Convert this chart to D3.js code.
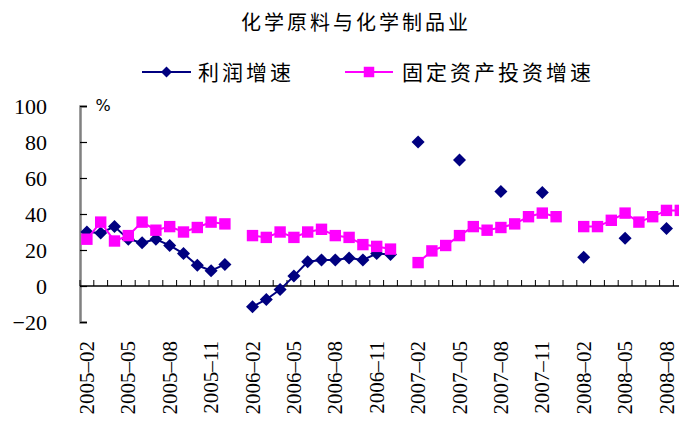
<!DOCTYPE html>
<html>
<head>
<meta charset="utf-8">
<script src="https://cdn.jsdelivr.net/npm/d3@7"></script>
<style>
  html, body { margin: 0; padding: 0; background: #fff; }
  svg { display: block; }
  .serif { font-family: "Times New Roman", "Liberation Serif", "DejaVu Serif", serif; }
</style>
</head>
<body>
<svg id="chart" width="679" height="421"></svg>
<script>
// Monthly categories (January left blank in the source statistics)
const months = [
  "2005-02","2005-03","2005-04","2005-05","2005-06","2005-07","2005-08","2005-09","2005-10","2005-11","2005-12",
  "2006-01","2006-02","2006-03","2006-04","2006-05","2006-06","2006-07","2006-08","2006-09","2006-10","2006-11","2006-12",
  "2007-01","2007-02","2007-03","2007-04","2007-05","2007-06","2007-07","2007-08","2007-09","2007-10","2007-11","2007-12",
  "2008-01","2008-02","2008-03","2008-04","2008-05","2008-06","2008-07","2008-08","2008-09"
];

// 利润增速 (%)
const profitGrowth = [
  30, 29.5, 33, 26, 24, 26, 22.5, 18, 11.5, 8.5, 12,
  null, -11.5, -7.5, -2, 5.5, 13.5, 14.5, 14.5, 15.5, 14.5, 18, 17.5,
  null, 80, null, null, 70, null, null, 52.5, null, null, 52, null,
  null, 16, null, null, 26.5, null, null, 32, null
];

// 固定资产投资增速 (%)
const investGrowth = [
  26, 35.5, 25, 28, 35.5, 31, 33, 30, 32.5, 35.5, 34.5,
  null, 28, 27, 30, 27, 30, 31.5, 28, 27, 23, 22, 20.5,
  null, 13, 19.5, 22.5, 28, 33, 31, 32.5, 34.5, 38.5, 40.5, 38.5,
  null, 33, 33, 36.5, 40.5, 35.5, 38.5, 42, 42
];

const yTicks = [-20, 0, 20, 40, 60, 80, 100];
const xTickLabels = months.filter((d, i) => i % 3 === 0);

const title = "化学原料与化学制品业";
const seriesNames = ["利润增速", "固定资产投资增速"];

const navy = "#000080";
const magenta = "#ff00ff";
const cjk = "'Noto Sans CJK SC', sans-serif";

const svg = d3.select("#chart");

const x = d3.scaleBand().domain(months).range([80, 80 + 13.8 * months.length]).padding(0);
const y = d3.scaleLinear().domain([-20, 100]).range([322, 106]);

// Title
svg.append("text")
  .attr("x", 356).attr("y", 30)
  .attr("text-anchor", "middle")
  .attr("font-family", cjk)
  .attr("font-size", 20)
  .attr("letter-spacing", 3)
  .attr("fill", "#000")
  .text(title);

// Y axis (ticks point into the plot)
const yAxis = d3.axisLeft(y).tickValues(yTicks).tickSize(-7).tickPadding(40)
  .tickFormat(d => d < 0 ? "\u2212" + Math.abs(d) : d);
const gy = svg.append("g").attr("transform", "translate(80,0)").call(yAxis);
gy.attr("font-family", null);
gy.select(".domain").attr("stroke", "#808080").attr("stroke-width", 2.5);
gy.selectAll(".tick line").attr("stroke", "#000").attr("stroke-width", 1.2);
gy.selectAll(".tick text")
  .attr("class", "serif").attr("font-size", 22).attr("fill", "#000")
  .attr("text-anchor", "end").attr("x", -33).attr("dy", "0.34em");

// Category axis on the zero line: ticks at band boundaries pointing up
const x0 = y(0);
svg.append("line")
  .attr("x1", 80).attr("x2", x.range()[1])
  .attr("y1", x0).attr("y2", x0)
  .attr("stroke", "#000").attr("stroke-width", 1.5);
svg.append("g").selectAll("line")
  .data(months.concat(["end"]))
  .join("line")
  .attr("x1", (d, i) => 80 + x.bandwidth() * i)
  .attr("x2", (d, i) => 80 + x.bandwidth() * i)
  .attr("y1", x0).attr("y2", x0 - 6)
  .attr("stroke", "#000").attr("stroke-width", 1);

// Rotated month labels below the plot
svg.append("g").selectAll("text")
  .data(xTickLabels)
  .join("text")
  .attr("class", "serif")
  .attr("transform", d => `translate(${x(d) + x.bandwidth() / 2 + 7},341) rotate(-90)`)
  .attr("text-anchor", "end")
  .attr("font-size", 21)
  .attr("fill", "#000")
  .text(d => d.replace("-", "\u2013"));

// Unit label
svg.append("text")
  .attr("x", 103).attr("y", 111)
  .attr("text-anchor", "middle")
  .attr("font-family", "'DejaVu Sans', sans-serif")
  .attr("font-size", 16)
  .attr("fill", "#000")
  .text("%");

const cx = d => x(d) + x.bandwidth() / 2;

// Line with markers; diamonds are squares turned 45 degrees
function drawSeries(values, color, diamond, size) {
  const pts = months.map((m, i) => ({ m, v: values[i] }));
  const line = d3.line()
    .defined(d => d.v !== null)
    .x(d => cx(d.m))
    .y(d => y(d.v));
  svg.append("path")
    .datum(pts)
    .attr("d", line)
    .attr("fill", "none")
    .attr("stroke", color)
    .attr("stroke-width", 2);
  const sym = d3.symbol().type(d3.symbolSquare).size(size);
  svg.append("g").selectAll("path")
    .data(pts.filter(d => d.v !== null))
    .join("path")
    .attr("transform", d => `translate(${cx(d.m)},${y(d.v)})` + (diamond ? " rotate(45)" : ""))
    .attr("d", sym)
    .attr("fill", color);
}

drawSeries(profitGrowth, navy, true, 85);
drawSeries(investGrowth, magenta, false, 130);

// Legend
const legend = [
  { name: seriesNames[0], color: navy, x1: 142, x2: 191, tx: 198, rot: true, size: 60 },
  { name: seriesNames[1], color: magenta, x1: 345, x2: 393, tx: 402, rot: false, size: 110 }
];
const ly = 72;
legend.forEach(l => {
  svg.append("line")
    .attr("x1", l.x1).attr("x2", l.x2).attr("y1", ly).attr("y2", ly)
    .attr("stroke", l.color).attr("stroke-width", 2);
  svg.append("path")
    .attr("transform", `translate(${(l.x1 + l.x2) / 2},${ly})` + (l.rot ? " rotate(45)" : ""))
    .attr("d", d3.symbol().type(d3.symbolSquare).size(l.size)())
    .attr("fill", l.color);
  svg.append("text")
    .attr("x", l.tx).attr("y", ly + 8)
    .attr("font-family", cjk)
    .attr("font-size", 21)
    .attr("letter-spacing", 3)
    .attr("fill", "#000")
    .text(l.name);
});
</script>
</body>
</html>
